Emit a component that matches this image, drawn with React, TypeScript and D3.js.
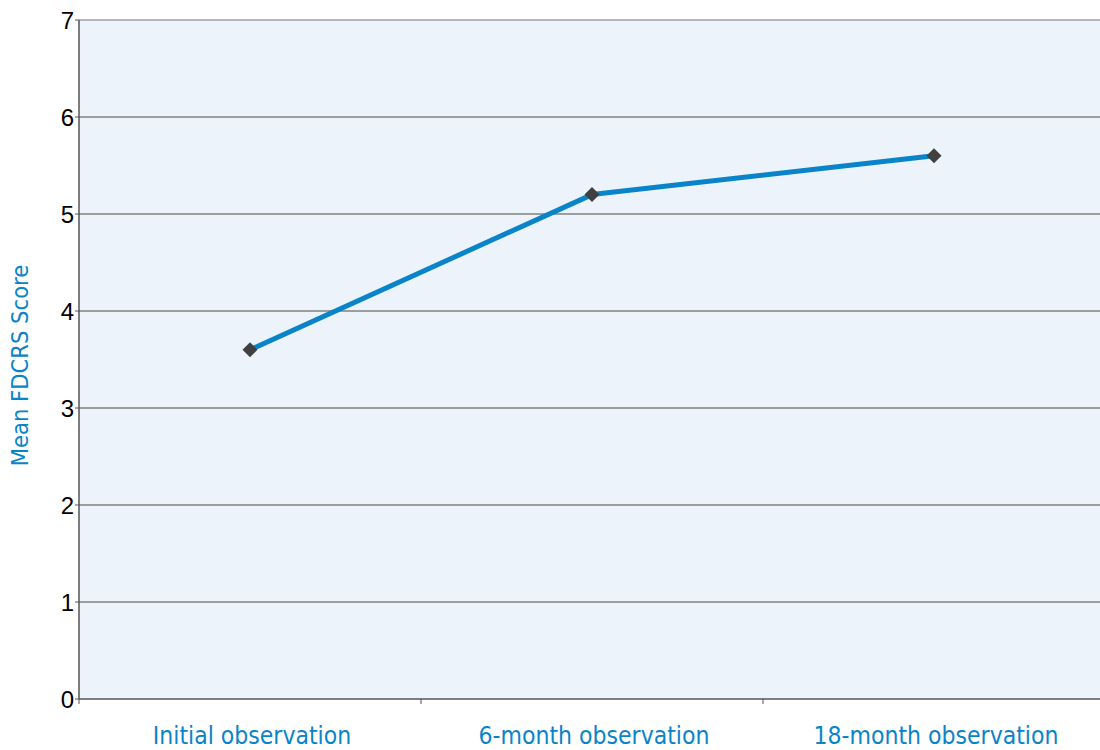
import React from "react";
import * as d3 from "d3";

const categories = ["Initial observation", "6-month observation", "18-month observation"];
const scores = [3.6, 5.2, 5.6];
const yTicks = [0, 1, 2, 3, 4, 5, 6, 7];
const yLabel = "Mean FDCRS Score";

export default function App() {
  const W = 1100, H = 750;
  const left = 79, right = 1105, top = 20, bottom = 699;
  const x = d3.scaleBand<string>().domain(categories).range([left, right]);
  const y = d3.scaleLinear().domain([0, 7]).range([bottom, top]);
  const line = d3.line<number>()
    .x((_, i) => (x(categories[i]) as number) + x.bandwidth() / 2)
    .y((d) => y(d));
  const bandEdges = categories.map((c) => x(c) as number).concat([right]);
  return (
    <svg width={W} height={H} style={{ position: "absolute", left: 0, top: 0 }}>
      <rect x={left} y={top} width={right - left} height={bottom - top} fill="#ecf3fb" />
      {yTicks.map((t) => (
        <g key={t}>
          {t > 0 && (
            <line x1={left} x2={right} y1={y(t)} y2={y(t)} stroke={t === 7 ? "#a0a0a0" : "#808080"} strokeWidth={1.3} />
          )}
          <line x1={left - 4} x2={left} y1={y(t)} y2={y(t)} stroke="#555" strokeWidth={1} />
          <text x={left - 5} y={y(t)} dy="0.36em" textAnchor="end" fontFamily="Liberation Sans, Arial, sans-serif" fontSize={24} fill="#000">
            {t}
          </text>
        </g>
      ))}
      <line x1={left} x2={left} y1={top} y2={bottom} stroke="#555" strokeWidth={1.5} />
      <line x1={left} x2={right} y1={bottom} y2={bottom} stroke="#555" strokeWidth={1.5} />
      {bandEdges.map((b, i) => (
        <line key={i} x1={b} x2={b} y1={bottom} y2={bottom + 5} stroke="#555" strokeWidth={1} />
      ))}
      <path d={line(scores) || ""} fill="none" stroke="#0a84c8" strokeWidth={5} strokeLinejoin="round" />
      {scores.map((s, i) => {
        const cx = (x(categories[i]) as number) + x.bandwidth() / 2;
        const cy = y(s);
        const r = 7.5;
        return (
          <path key={i} d={`M${cx},${cy - r}L${cx + r},${cy}L${cx},${cy + r}L${cx - r},${cy}Z`} fill="#404040" />
        );
      })}
      {categories.map((c) => (
        <text key={c} x={(x(c) as number) + x.bandwidth() / 2 + 2} y={744} textAnchor="middle" fontFamily="DejaVu Sans Condensed, DejaVu Sans, sans-serif" fontStretch="condensed" fontSize={24.5} fill="#0a84c8">
          {c}
        </text>
      ))}
      <text transform={`translate(28,${(top + bottom) / 2 + 6}) rotate(-90)`} textAnchor="middle" fontFamily="DejaVu Sans Condensed, DejaVu Sans, sans-serif" fontStretch="condensed" fontSize={23.5} fill="#0a84c8">
        {yLabel}
      </text>
    </svg>
  );
}
